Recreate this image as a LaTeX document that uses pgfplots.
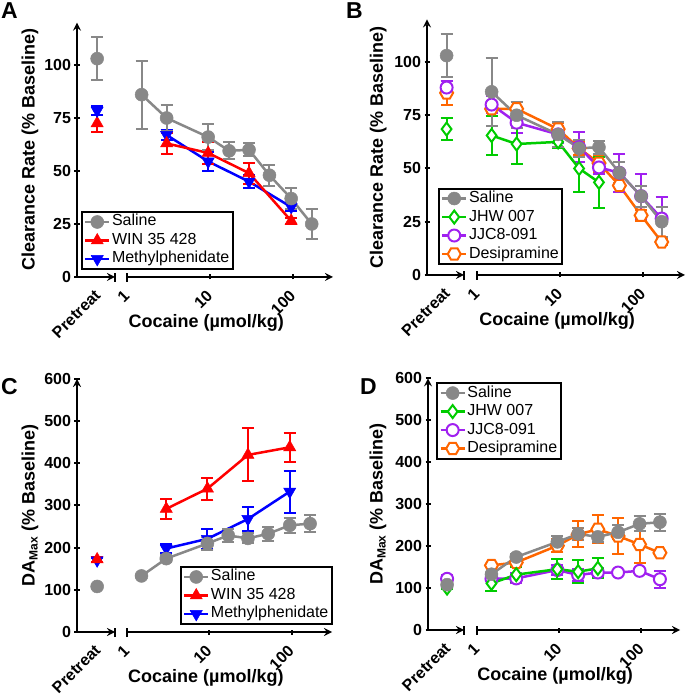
\documentclass[border=0pt]{standalone}
\usepackage{fontspec}
\setmainfont{Liberation Sans}
\usepackage{pgfplots}
\pgfplotsset{compat=1.18}

\definecolor{cgray}{RGB}{136,136,136}
\definecolor{cred}{RGB}{255,0,0}
\definecolor{cblue}{RGB}{0,0,255}
\definecolor{cgreen}{RGB}{0,204,0}
\definecolor{cpurp}{RGB}{160,32,240}
\definecolor{corange}{RGB}{255,102,0}

\newcommand\tickfont{\bfseries\fontsize{16}{16}\selectfont}
\newcommand\labfont{\bfseries\fontsize{18}{18}\selectfont}
\newcommand\legfont{\fontsize{16}{16}\selectfont}
\newcommand\panfont{\bfseries\fontsize{23}{23}\selectfont}

\pgfdeclareplotmark{hexagon*}{%
  \pgfpathmoveto{\pgfqpointpolar{0}{\pgfplotmarksize}}%
  \pgfpathlineto{\pgfqpointpolar{60}{\pgfplotmarksize}}%
  \pgfpathlineto{\pgfqpointpolar{120}{\pgfplotmarksize}}%
  \pgfpathlineto{\pgfqpointpolar{180}{\pgfplotmarksize}}%
  \pgfpathlineto{\pgfqpointpolar{240}{\pgfplotmarksize}}%
  \pgfpathlineto{\pgfqpointpolar{300}{\pgfplotmarksize}}%
  \pgfpathclose
  \pgfusepathqfillstroke}

\tikzset{rl/.style={font=\tickfont, rotate=45, anchor=east, inner sep=0.5pt}}

\pgfplotsset{
  base/.style={scale only axis, clip=false,
    axis line style={line width=2.5pt,-},
    tick style={line width=2pt,black}, major tick length=5pt, tick align=outside,
    ticklabel style={font=\tickfont},
    /pgf/number format/assume math mode=true,
    legend style={draw=black, line width=2pt, fill=white, font=\legfont,
      inner xsep=2pt, inner ysep=1pt, row sep=0.5pt,
      nodes={inner sep=1.5pt, text height=11.5pt, text depth=3.5pt}},
    legend cell align=left,
    legend image code/.code={\draw[mark repeat=2,mark phase=2] plot coordinates {(0pt,0pt) (12pt,0pt) (24pt,0pt)};},
  },
  pre/.style={base, axis x line=bottom, axis y line=left,
    xmin=0, xmax=1, xtick=\empty,
    after end axis/.code={\draw[line width=2pt] (rel axis cs:1,0) ++(0pt,-5pt) -- ++(0pt,9pt);
      \node[rl] at ([xshift=1pt,yshift=-15pt]axis cs:0.53,0) {Pretreat};},
  },
  main/.style={base, axis x line=bottom, axis y line=none,
    xtick={1,10,100}, xticklabels={,,}, xminorticks=false,
    xlabel={Cocaine (µmol/kg)},
    every axis x label/.style={at={(axis description cs:0.385,0)}, anchor=center, yshift=-46pt, font=\labfont},
    after end axis/.code={\draw[line width=2pt] (rel axis cs:0,0) ++(0pt,-5pt) -- ++(0pt,9pt);
      \node[rl] at ([yshift=-16pt]axis cs:1,0) {1};
      \node[rl] at ([yshift=-16pt]axis cs:10,0) {10};
      \node[rl] at ([yshift=-16pt]axis cs:100,0) {100};},
  },
  ylab/.style={every axis y label/.style={at={(axis description cs:#1,0.5)}, rotate=90, anchor=center, font=\labfont}},
  ebar/.style={/pgfplots/error bars/y dir=both, /pgfplots/error bars/y explicit,
    /pgfplots/error bars/error bar style={line width=2pt, color=#1},
    /pgfplots/error bars/error mark options={rotate=90, mark size=6pt, line width=2pt, color=#1}},
  sal/.style={color=cgray, line width=2.5pt, mark=*, mark size=6.5pt, mark options={fill=cgray, line width=0.5pt}, ebar=cgray},
  win/.style={color=cred, line width=2.5pt, mark=triangle*, mark size=7pt, mark options={fill=cred, line width=0.5pt}, ebar=cred},
  mph/.style={color=cblue, line width=2.5pt, mark=triangle*, mark size=7pt, mark options={fill=cblue, line width=0.5pt, rotate=180}, ebar=cblue},
  jhw/.style={color=cgreen, line width=2.5pt, mark=diamond*, mark size=6.5pt, mark options={fill=white, line width=2pt}, ebar=cgreen},
  jjc/.style={color=cpurp, line width=2.5pt, mark=*, mark size=6pt, mark options={fill=white, line width=2pt}, ebar=cpurp},
  des/.style={color=corange, line width=2.5pt, mark=hexagon*, mark size=6.5pt, mark options={fill=white, line width=2pt}, ebar=corange},
}

\begin{document}
\begin{tikzpicture}
\useasboundingbox (0pt,0pt) rectangle (685pt,695pt);

% ---------------- Panel A ----------------
\node[anchor=north west, inner sep=0pt, font=\panfont] at (1pt,693pt) {A};
\begin{axis}[pre, at={(77pt,418pt)}, anchor=south west, width=38pt, height=254.4pt,
  ymin=0, ymax=120, ytick={0,25,50,75,100},
  ylabel={Clearance Rate (\% Baseline)}, ylab=-1.237]
\addplot[sal, only marks] coordinates {(0.53,103) +- (0,10)};
\addplot[win, only marks] coordinates {(0.53,72.5) +- (0,4)};
\addplot[mph, only marks] coordinates {(0.53,78.5) +- (0,2)};
\end{axis}
\begin{semilogxaxis}[main, at={(127pt,418pt)}, anchor=south west, width=206pt, height=254.4pt,
  xmin=1, xmax=303, ymin=0, ymax=120,
  legend style={at={(-0.2233,0.0275)}, anchor=south west}]
\addlegendimage{sal}\addlegendentry{Saline}
\addlegendimage{win}\addlegendentry{WIN 35 428}
\addlegendimage{mph}\addlegendentry{Methylphenidate}
\addplot[mph, forget plot] coordinates {(3,67) +- (0,2.5) (9.5,54.5) +- (0,4.5) (29.5,45) +- (0,3) (95,33) +- (0,2)};
\addplot[win, forget plot] coordinates {(3,63) +- (0,5) (9.5,58.5) +- (0,5) (29.5,49) +- (0,5) (95,26.5) +- (0,1.5)};
\addplot[sal, forget plot] coordinates {(1.5,86) +- (0,16) (3,75) +- (0,6) (9.5,66) +- (0,6) (17,59.5) +- (0,4) (29.5,60) +- (0,3) (52,48) +- (0,5) (95,37) +- (0,5) (168,25) +- (0,7)};
\end{semilogxaxis}

% ---------------- Panel B ----------------
\node[anchor=north west, inner sep=0pt, font=\panfont] at (346pt,693pt) {B};
\begin{axis}[pre, at={(427pt,420pt)}, anchor=south west, width=37pt, height=255.6pt,
  ymin=0, ymax=120, ytick={0,25,50,75,100},
  ylabel={Clearance Rate (\% Baseline)}, ylab=-1.316]
\addplot[sal, only marks] coordinates {(0.53,103) +- (0,10)};
\addplot[jhw, only marks] coordinates {(0.53,68.5) +- (0,5)};
\addplot[des, only marks] coordinates {(0.53,85.5) +- (0,5.5)};
\addplot[jjc, only marks] coordinates {(0.53,88) +- (0,3)};
\end{axis}
\begin{semilogxaxis}[main, at={(477pt,420pt)}, anchor=south west, width=208pt, height=255.6pt,
  xmin=1, xmax=321, ymin=0, ymax=120,
  legend style={at={(-0.1875,0.039)}, anchor=south west}]
\addlegendimage{sal}\addlegendentry{Saline}
\addlegendimage{jhw}\addlegendentry{JHW 007}
\addlegendimage{jjc}\addlegendentry{JJC8-091}
\addlegendimage{des}\addlegendentry{Desipramine}
\addplot[des, forget plot] coordinates {(1.5,78) +- (0,2) (3,78) +- (0,3) (9.5,68.5) +- (0,3) (17,59.5) +- (0,3) (29.5,52.5) +- (0,4) (52,42) +- (0,3) (95,28) +- (0,2.5) (168,15.5) +- (0,1.5)};
\addplot[jjc, forget plot] coordinates {(1.5,80) +- (0,4) (3,71.5) +- (0,5) (9.5,66) +- (0,4) (17,60) +- (0,7) (29.5,50.5) +- (0,3) (52,48) +- (0,9) (95,37) +- (0,10.5) (168,26.5) +- (0,10)};
\addplot[jhw, forget plot] coordinates {(1.5,65.5) +- (0,9) (3,61.5) +- (0,9.5) (9.5,62.5) +- (0,3) (17,50) +- (0,11) (29.5,43.5) +- (0,12)};
\addplot[sal, forget plot] coordinates {(1.5,86) +- (0,16) (3,75) +- (0,6) (9.5,66) +- (0,6) (17,59.5) +- (0,4) (29.5,60) +- (0,3) (52,48) +- (0,5) (95,37) +- (0,5) (168,25) +- (0,7)};
\end{semilogxaxis}

% ---------------- Panel C ----------------
\node[anchor=north west, inner sep=0pt, font=\panfont] at (1pt,317pt) {C};
\begin{axis}[pre, at={(77pt,63pt)}, anchor=south west, width=38pt, height=253pt,
  ymin=0, ymax=600, ytick={0,100,...,600},
  ylabel={DA\raisebox{-3pt}{\fontsize{12}{12}\selectfont Max} (\% Baseline)}, ylab=-1.237]
\addplot[sal, only marks] coordinates {(0.53,108) +- (0,3)};
\addplot[mph, only marks] coordinates {(0.53,170) +- (0,5)};
\addplot[win, only marks] coordinates {(0.53,172) +- (0,6)};
\end{axis}
\begin{semilogxaxis}[main, at={(127pt,63pt)}, anchor=south west, width=205pt, height=253pt,
  xmin=1, xmax=310, ymin=0, ymax=600,
  legend style={at={(0.2585,0.0277)}, anchor=south west}]
\addlegendimage{sal}\addlegendentry{Saline}
\addlegendimage{win}\addlegendentry{WIN 35 428}
\addlegendimage{mph}\addlegendentry{Methylphenidate}
\addplot[win, forget plot] coordinates {(3,292) +- (0,23) (9.5,340) +- (0,26) (29.5,420) +- (0,63) (95,438) +- (0,35)};
\addplot[mph, forget plot] coordinates {(3,198) +- (0,10) (9.5,221) +- (0,23) (29.5,268) +- (0,28) (95,333) +- (0,50)};
\addplot[sal, forget plot] coordinates {(1.5,133) +- (0,3) (3,174) +- (0,8) (9.5,210) +- (0,15) (17,229) +- (0,15) (29.5,222) +- (0,12) (52,233) +- (0,17) (95,253) +- (0,18) (168,257) +- (0,20)};
\end{semilogxaxis}

% ---------------- Panel D ----------------
\node[anchor=north west, inner sep=0pt, font=\panfont] at (360pt,317pt) {D};
\begin{axis}[pre, at={(428pt,65pt)}, anchor=south west, width=36pt, height=251.7pt,
  ymin=0, ymax=600, ytick={0,100,...,600},
  ylabel={DA\raisebox{-3pt}{\fontsize{12}{12}\selectfont Max} (\% Baseline)}, ylab=-1.389]
\addplot[jjc, only marks] coordinates {(0.53,122) +- (0,8)};
\addplot[jhw, only marks] coordinates {(0.53,100) +- (0,3)};
\addplot[sal, only marks] coordinates {(0.53,108) +- (0,3)};
\end{axis}
\begin{semilogxaxis}[main, at={(477pt,65pt)}, anchor=south west, width=203pt, height=251.7pt,
  xmin=1, xmax=295, ymin=0, ymax=600,
  legend style={at={(-0.2,0.985)}, anchor=north west}]
\addlegendimage{sal}\addlegendentry{Saline}
\addlegendimage{jhw}\addlegendentry{JHW 007}
\addlegendimage{jjc}\addlegendentry{JJC8-091}
\addlegendimage{des}\addlegendentry{Desipramine}
\addplot[jjc, forget plot] coordinates {(1.5,122) +- (0,5) (3,123) +- (0,12) (9.5,143) +- (0,12) (17,131) +- (0,15) (29.5,137) +- (0,10) (52,137) +- (0,3) (95,141) +- (0,3) (168,121) +- (0,20)};
\addplot[des, forget plot] coordinates {(1.5,154) +- (0,4) (3,161) +- (0,5) (9.5,201) +- (0,16) (17,228) +- (0,31) (29.5,240) +- (0,33) (52,224) +- (0,42) (95,204) +- (0,45) (168,184) +- (0,3)};
\addplot[jhw, forget plot] coordinates {(1.5,111) +- (0,17) (3,132) +- (0,18) (9.5,145) +- (0,24) (17,139) +- (0,27) (29.5,147) +- (0,24)};
\addplot[sal, forget plot] coordinates {(1.5,133) +- (0,3) (3,174) +- (0,8) (9.5,210) +- (0,15) (17,229) +- (0,15) (29.5,222) +- (0,12) (52,233) +- (0,17) (95,253) +- (0,18) (168,257) +- (0,20)};
\end{semilogxaxis}
\end{tikzpicture}
\end{document}
